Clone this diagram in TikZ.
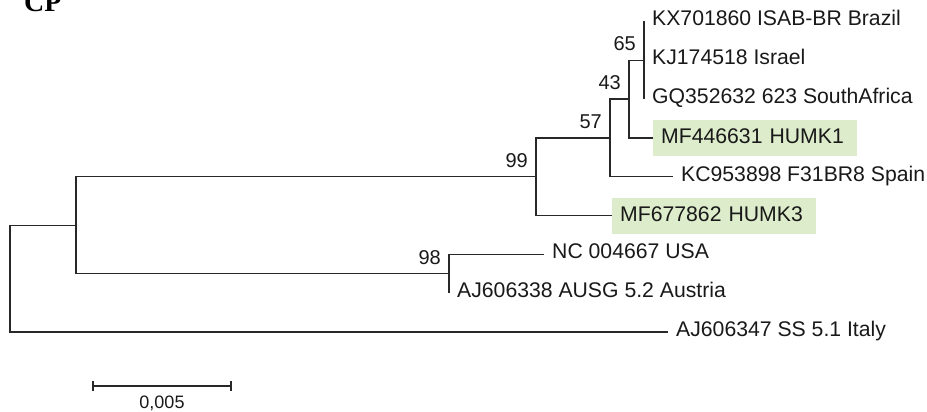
\documentclass[tikz,border=0pt]{standalone}
\usepackage{fontspec}
\setmainfont{Liberation Sans}
\newfontfamily\cpfont{Liberation Serif}
\definecolor{hlgreen}{RGB}{221,236,202}
\definecolor{treeline}{RGB}{40,40,40}

\begin{document}
\begin{tikzpicture}[x=1pt,y=-1pt]

    \tikzset{
      branch/.style={color={treeline},line width=1.3pt},
      leaf/.style={anchor=west,inner xsep=8pt,inner ysep=0pt,text height=15pt,text depth=6pt,
        text=black!90,font=\fontsize{21.2}{24}\selectfont},
      hl/.style={leaf,fill=hlgreen,text width=188pt,align=left,text height=14pt,text depth=3pt,inner ysep=9.5pt},
      boot/.style={anchor=south east,inner xsep=8pt,inner ysep=9pt,text=black!90,font=\fontsize{20}{22}\selectfont},
    }

	\useasboundingbox (0,0) rectangle (927,412);

	% panel letter
	\node[anchor=base west,inner sep=0pt,font=\cpfont\bfseries\fontsize{28}{30}\selectfont] (cp) at (24,11.7) {CP};

	% internal nodes
	\coordinate (n65) at (644,60.3);
	\coordinate (n43) at (629,99.1);
	\coordinate (n57) at (610,137.9);
	\coordinate (n99) at (536,176.7);
	\coordinate (n98) at (449,273.7);
	\coordinate (nin) at (76,225.2);
	\coordinate (nroot) at (10,278.5);

	% leaves
	\node[leaf] (brazil) at (644,21.5) {KX701860 ISAB-BR Brazil};
	\node[leaf] (israel) at (644,60.3) {KJ174518 Israel};
	\node[leaf] (safrica) at (644,99.1) {GQ352632 623 SouthAfrica};
	\node[hl] (humk1) at (653,137.9) {MF446631 HUMK1};
	\node[leaf] (spain) at (673,176.7) {KC953898 F31BR8 Spain};
	\node[hl] (humk3) at (612,215.5) {MF677862 HUMK3};
	\node[leaf] (usa) at (544,254.3) {NC 004667 USA};
	\node[leaf] (austria) at (449,293.1) {AJ606338 AUSG 5.2 Austria};
	\node[leaf] (italy) at (668,331.9) {AJ606347 SS 5.1 Italy};

	% branches
	\draw[branch] (n65) |- (brazil.west);
	\draw[branch] (n65) |- (safrica.west);
	\draw[branch] (n43) |- (n65);
	\draw[branch] (n43) |- (humk1.west);
	\draw[branch] (n57) |- (n43);
	\draw[branch] (n57) |- (spain.west);
	\draw[branch] (n99) |- (n57);
	\draw[branch] (n99) |- (humk3.west);
	\draw[branch] (n98) |- (usa.west);
	\draw[branch] (n98) |- (austria.west);
	\draw[branch] (nin) |- (n99);
	\draw[branch] (nin) |- (n98);
	\draw[branch] (nroot) |- (nin);
	\draw[branch] (nroot) |- (italy.west);

	% bootstrap values
	\node[boot] (b65) at (n65) {65};
	\node[boot] (b43) at (n43) {43};
	\node[boot] (b57) at (n57) {57};
	\node[boot] (b99) at (n99) {99};
	\node[boot] (b98) at (n98) {98};

	% scale bar
	\coordinate (sbl) at (93,386);
	\coordinate (sbr) at (231,386);
	\draw[branch] (sbl) -- (sbr);
	\draw[branch] ([yshift=5pt]sbl) -- ([yshift=-5pt]sbl);
	\draw[branch] ([yshift=5pt]sbr) -- ([yshift=-5pt]sbr);
	\node[text=black!90,font=\fontsize{18}{20}\selectfont] (sblabel) at (162,403) {0,005};

\end{tikzpicture}
\end{document}
